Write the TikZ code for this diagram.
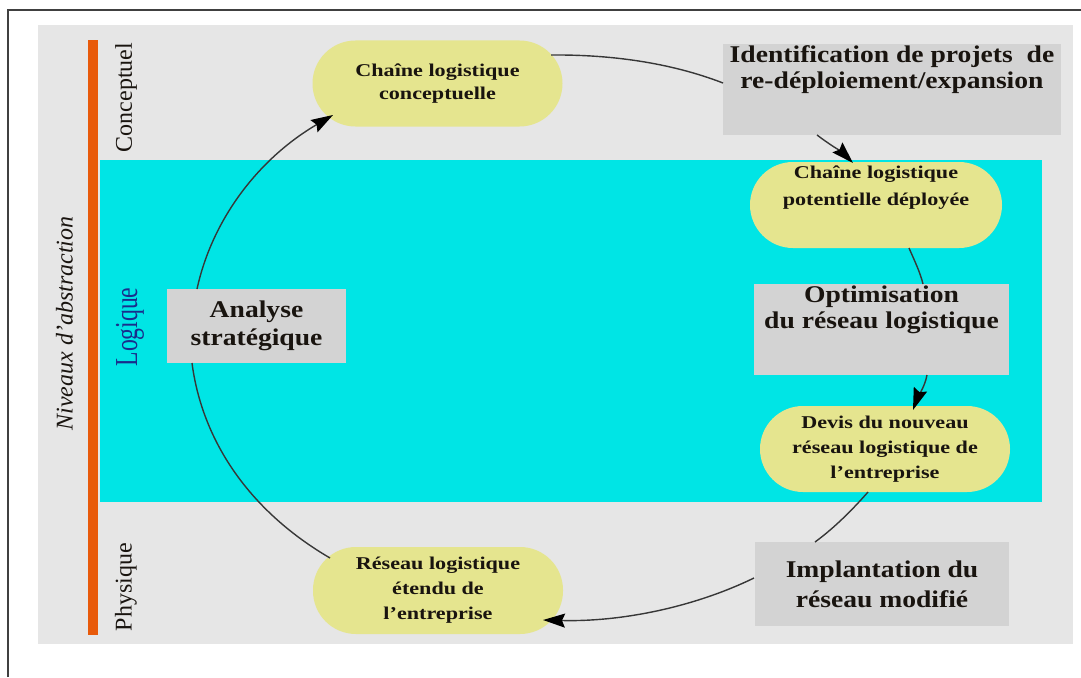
\documentclass[tikz,border=0pt]{standalone}
\usepackage{fontspec}
\setmainfont{Liberation Serif}
\newfontfamily\boxfont{Liberation Serif}[FakeStretch=1.15]
\newfontfamily\ovalfont{Liberation Serif}[FakeStretch=1.23]
\usetikzlibrary{arrows.meta,calc}

\definecolor{panel}{RGB}{230,230,230}
\definecolor{logicband}{RGB}{0,229,229}
\definecolor{oval}{RGB}{229,229,143}
\definecolor{boxgray}{RGB}{211,211,211}
\definecolor{axisbar}{RGB}{232,90,10}
\definecolor{ink}{RGB}{25,20,15}
\definecolor{wire}{RGB}{55,55,55}
\definecolor{navy}{RGB}{25,45,140}
\definecolor{framegray}{RGB}{64,64,64}

\begin{document}
\begin{tikzpicture}[x=1pt,y=-1pt,
  stadium/.style={fill=oval, rounded corners=43pt, minimum width=250pt,
    minimum height=86pt, inner sep=0pt, align=center, text=ink,
    font=\ovalfont\bfseries\fontsize{18}{25}\selectfont},
  ovaltext/.style={inner sep=0pt, align=center, text=ink,
    font=\ovalfont\bfseries\fontsize{18}{27}\selectfont},
  graybox/.style={fill=boxgray, inner sep=0pt, align=center, text=ink,
    font=\boxfont\bfseries\fontsize{24}{27}\selectfont},
  boxtext/.style={inner sep=0pt, align=center, text=ink,
    font=\boxfont\bfseries\fontsize{24}{26}\selectfont},
  level/.style={rotate=90, inner sep=0pt, text=ink,
    font=\fontsize{24}{28}\selectfont},
  link/.style={draw=wire, line width=1.4pt},
  arrowlink/.style={link, -{Stealth[length=22pt,width=14pt,inset=3pt,color=black]}},
]
\useasboundingbox (0,0) rectangle (1081,677);
\fill[white] (0,0) rectangle (1081,677);

% outer frame (open on the right and bottom)
\draw[framegray, line width=2pt] (8,677) -- (8,10) -- (1081,10);

% level bands
\fill[panel] (38,25) rectangle (1073,644);
\fill[logicband] (100,160) rectangle (1042,502);
\fill[axisbar] (88,40) rectangle (98,635);

% level labels
\node[level] (lvl-concept) at (126,97.5) {Conceptuel};
\node[level, text=navy, font=\fontsize{32}{34}\selectfont] (lvl-logic) at (130,327)
  {\scalebox{0.74}[1]{Logique}};
\node[level] (lvl-phys) at (126,587) {Physique};
\node[level, font=\itshape\fontsize{24}{28}\selectfont] (lvl-axis) at (64.5,323.5)
  {Niveaux d’abstraction};

% processes (gray boxes)
\node[graybox, minimum width=338pt, minimum height=91pt] (ident) at (892,89.5) {};
\node[boxtext] (ident-t) at ($(ident)+(0,-20)$)
  {Identification de projets\ \ de\\re-déploiement/expansion};
\node[graybox, minimum width=255pt, minimum height=91pt] (optim) at (881.5,329.5) {};
\node[boxtext] (optim-t) at ($(optim)+(0,-20)$)
  {Optimisation\\du réseau logistique};
\node[graybox, minimum width=254pt, minimum height=84pt,
  font=\boxfont\bfseries\fontsize{24}{30}\selectfont] (implant) at (882,584)
  {Implantation du\\réseau modifié};
\node[graybox, minimum width=179pt, minimum height=74pt,
  font=\boxfont\bfseries\fontsize{24}{28}\selectfont] (analyse) at (256.5,326)
  {Analyse\\stratégique};

% supply chain states (yellow ovals)
\node[stadium, font=\ovalfont\bfseries\fontsize{18}{23}\selectfont] (concept) at (437.5,83.5)
  {Chaîne logistique\\conceptuelle};
\node[stadium, minimum width=252pt] (pot) at (876,205) {};
\node[ovaltext] (pot-t) at ($(pot)+(0,-17.5)$)
  {Chaîne logistique\\potentielle déployée};
\node[stadium] (devis) at (885,449)
  {Devis du nouveau\\réseau logistique de\\l’entreprise};
\node[stadium, minimum height=87pt] (reseau) at (438,590.5)
  {Réseau logistique\\étendu de\\l’entreprise};

% the cycle
\draw[arrowlink] ($(analyse)+(-59.5,-37)$)
  .. controls (212.4,218.7) and (258.9,158.5) .. ($(concept)+(-104.5,31.5)$);
\draw[link] ($(concept)+(113.5,-28.5)$)
  .. controls (610.5,54.5) and (669.9,62.5) .. ($(ident)+(-169,-6.5)$);
\draw[arrowlink] ($(ident)+(-75,45.5)$)
  .. controls (828.6,143.8) and (843.1,153.1) .. ($(pot)+(-23,-42)$);
\draw[link] ($(pot)+(33,43)$)
  .. controls (914.1,259.9) and (920,271.7) .. ($(optim)+(41.5,-45.5)$);
\draw[arrowlink] ($(optim)+(45.5,45.5)$)
  .. controls (924.8,387) and (917.2,398.3) .. ($(devis)+(28,-39)$);
\draw[link] ($(devis)+(-17,43)$)
  .. controls (853,509.1) and (834.5,527.8) .. ($(implant)+(-67,-42)$);
\draw[arrowlink] ($(implant)+(-128,-6)$)
  .. controls (690.9,608.6) and (617.8,622) .. ($(reseau)+(105,29.5)$);
\draw[link] ($(reseau)+(-108,-32.5)$)
  .. controls (248.9,510.6) and (202.1,440.5) .. ($(analyse)+(-64.5,37)$);
\end{tikzpicture}
\end{document}
